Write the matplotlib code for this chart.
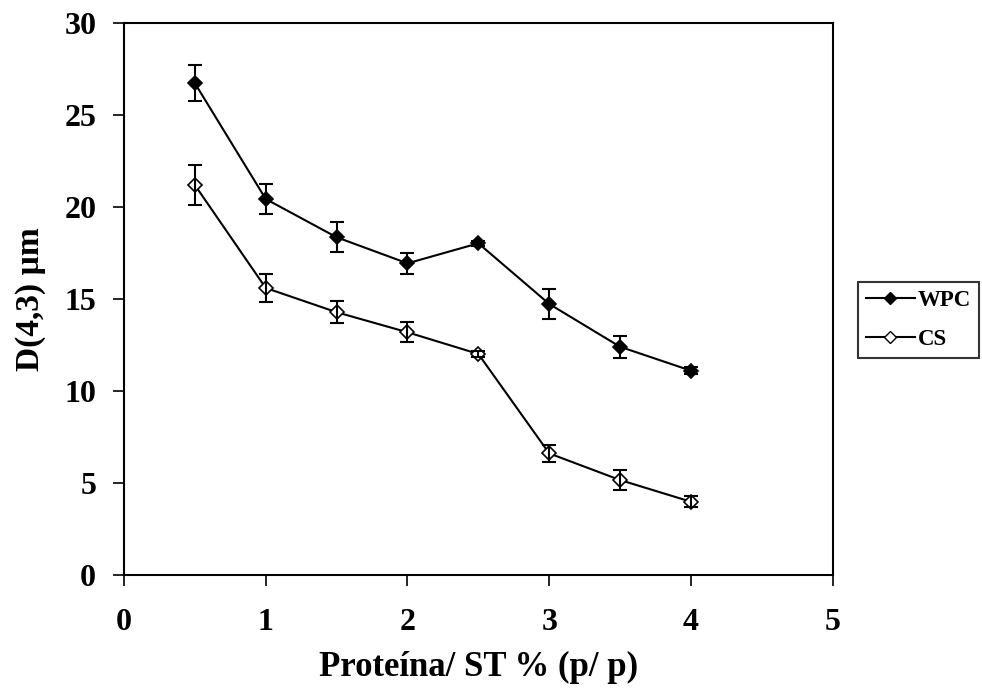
import matplotlib
matplotlib.use("Agg")
import matplotlib.pyplot as plt
from matplotlib.lines import Line2D

# Protein / total solids ratio (% w/w)
protein = [0.5, 1.0, 1.5, 2.0, 2.5, 3.0, 3.5, 4.0]

# Mean droplet size D(4,3) in micrometres, with standard deviations
wpc_d43 = [26.74, 20.44, 18.36, 16.94, 18.03, 14.73, 12.40, 11.10]
wpc_sd = [0.98, 0.81, 0.82, 0.56, 0.15, 0.82, 0.61, 0.20]
cs_d43 = [21.20, 15.60, 14.28, 13.19, 12.01, 6.60, 5.15, 3.97]
cs_sd = [1.09, 0.76, 0.60, 0.54, 0.15, 0.48, 0.54, 0.30]

series_names = ["WPC", "CS"]
x_ticks = [0, 1, 2, 3, 4, 5]
y_ticks = [0, 5, 10, 15, 20, 25, 30]

font = "Liberation Serif"
plt.rcParams["font.family"] = font

fig = plt.figure(figsize=(9.82, 6.88), dpi=100)
ax = fig.add_axes([124 / 982, 1 - 574.7 / 688, (832.7 - 124) / 982, (574.7 - 23.3) / 688])

ms = 7
ax.plot(protein, wpc_d43, color="black", lw=1.5, marker="D", ms=ms,
        mfc="black", mec="black", mew=1.2, zorder=2)
ax.plot(protein, cs_d43, color="black", lw=1.5, marker="D", ms=ms,
        mfc="white", mec="black", mew=1.2, zorder=2)
for vals, sd in ((wpc_d43, wpc_sd), (cs_d43, cs_sd)):
    ax.errorbar(protein, vals, yerr=sd, fmt="none", ecolor="black",
                elinewidth=1.5, capsize=4.7, capthick=1.5, zorder=3)

ax.set_xlim(0, 5)
ax.set_ylim(0, 30)
ax.set_xticks(x_ticks)
ax.set_yticks(y_ticks)
ax.tick_params(direction="out", length=8, width=1.2, labelsize=23)
ax.tick_params(axis="x", pad=16)
ax.tick_params(axis="y", pad=12)
for lab in ax.get_xticklabels() + ax.get_yticklabels():
    lab.set_fontweight("bold")
for sp in ax.spines.values():
    sp.set_linewidth(1.5)

ax.set_xlabel("Proteína/ ST % (p/ p)", fontsize=25, fontweight="bold", labelpad=10)
ax.set_ylabel("D(4,3) µm", fontsize=24, fontweight="bold", labelpad=13)

handles = [
    Line2D([], [], color="black", lw=1.5, marker="D", ms=6, mfc="black", mec="black"),
    Line2D([], [], color="black", lw=1.5, marker="D", ms=6, mfc="white", mec="black"),
]
leg = fig.legend(handles, series_names, loc="upper left",
                 bbox_to_anchor=(857.7 / 982, 1 - 281.7 / 688),
                 frameon=True, fancybox=False, edgecolor="black",
                 prop={"family": font, "weight": "bold", "size": 16.5},
                 handlelength=2.15, handletextpad=0.12, borderpad=0.35,
                 labelspacing=0.8, borderaxespad=0)
leg.get_frame().set_linewidth(1.5)

fig.savefig("out.png", dpi=100)
